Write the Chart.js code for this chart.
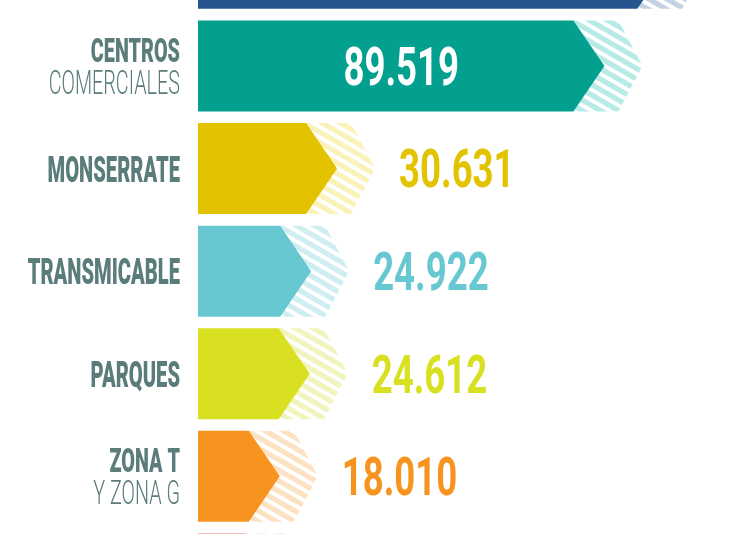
<!DOCTYPE html>
<html><head><meta charset="utf-8">
<script src="https://cdn.jsdelivr.net/npm/chart.js@4.4.1/dist/chart.umd.min.js"></script>
<style>html,body{margin:0;padding:0;background:#fff;}#wrap{position:relative;width:747px;height:534px;}</style>
</head><body><div id="wrap"><canvas id="c"></canvas></div>
<script>
// ---- data ----
const labelsBold  = ['', 'CENTROS', 'MONSERRATE', 'TRANSMICABLE', 'PARQUES', 'ZONA T', ''];
const labelsLight = ['', 'COMERCIALES', '', '', '', 'Y ZONA G', ''];
const values      = [103600, 89519, 30631, 24922, 24612, 18010, 17200];
const barColors   = ['#25548f', '#04a08f', '#e3c200', '#67c8d1', '#d9e021', '#f7941f', '#ea7a5c'];
const hatchColors = ['#c6d2e2', '#b6ebe6', '#fbf2b9', '#cfeef1', '#f2f4bd', '#fde1c3', '#fadacf'];

function fmt(v){ const t = Math.floor(v/1000), r = String(v%1000).padStart(3,'0'); return t + '.' + r; }

const CONDENSE_VALUE = 0.69;
const LABEL_COLOR = '#5a7c7a';

function condensedText(ctx, text, x, y, font, color, align, sx){
  ctx.save();
  ctx.font = font; ctx.fillStyle = color; ctx.textBaseline = 'alphabetic';
  const w = ctx.measureText(text).width * sx;
  let left = x;
  if (align === 'right') left = x - w; else if (align === 'center') left = x - w/2;
  ctx.translate(left, y); ctx.scale(sx, 1);
  ctx.textAlign = 'left';
  ctx.fillText(text, 0, 0);
  ctx.restore();
}

const chevronPlugin = {
  id: 'chevrons',
  afterDatasetsDraw(chart){
    const ctx = chart.ctx;
    const meta = chart.getDatasetMeta(0);
    const slope = Math.tan(30*Math.PI/180);
    meta.data.forEach((el, i) => {
      const p = el.getProps(['x','y','base','height'], true);
      const x = p.x, y = p.y, base = p.base, h = p.height;
      const top = y - h/2, bot = y + h/2;
      const d = 31, sh = 38, dh = 24;
      // hatched shadow
      ctx.save();
      ctx.beginPath();
      ctx.moveTo(x - d, top); ctx.lineTo(x + sh - dh, top); ctx.lineTo(x + sh, y);
      ctx.lineTo(x + sh - dh, bot); ctx.lineTo(x - d, bot); ctx.closePath();
      ctx.clip();
      ctx.strokeStyle = hatchColors[i]; ctx.lineWidth = 5.2;
      const period = 10.5, L = sh + d + 40;
      for (let k = -14; k < 14; k++){
        const y0 = top + k*period;
        ctx.beginPath(); ctx.moveTo(x - d - 20, y0); ctx.lineTo(x - d - 20 + L, y0 + L*slope); ctx.stroke();
      }
      ctx.restore();
      // solid chevron bar
      ctx.save();
      ctx.fillStyle = barColors[i];
      ctx.beginPath();
      ctx.moveTo(base, top); ctx.lineTo(x - d, top); ctx.lineTo(x, y);
      ctx.lineTo(x - d, bot); ctx.lineTo(base, bot); ctx.closePath();
      ctx.fill();
      ctx.restore();
      // value label
      const txt = fmt(values[i]);
      const vFont = 'bold 53px Roboto';
      const capH = 0.711*53;
      if (x - base > 250){
        condensedText(ctx, txt, (x + base)/2, y + capH/2, vFont, '#ffffff', 'center', CONDENSE_VALUE);
      } else {
        condensedText(ctx, txt, x + 62, y + capH/2, vFont, barColors[i], 'left', CONDENSE_VALUE);
      }
      // category label
      const lx = base - 18;
      if (labelsLight[i]){
        condensedText(ctx, labelsBold[i], lx, y - 4, '900 33px Roboto', LABEL_COLOR, 'right', 0.6);
        condensedText(ctx, labelsLight[i], lx, y + 28, '300 33px Roboto', LABEL_COLOR, 'right', 0.6);
      } else if (labelsBold[i]) {
        condensedText(ctx, labelsBold[i], lx, y + 13, '900 36px Roboto', LABEL_COLOR, 'right', 0.56);
      }
    });
  }
};

new Chart(document.getElementById('c'), {
  type: 'bar',
  data: {
    datasets: [{
      data: values.map((v, i) => ({x: v, y: i})),
      backgroundColor: 'rgba(0,0,0,0)',
      borderWidth: 0,
      barThickness: 91
    }]
  },
  options: {
    indexAxis: 'y',
    responsive: true,
    maintainAspectRatio: false,
    animation: false,
    layout: { padding: { left: 198, right: 0, top: 0, bottom: 0 } },
    scales: {
      x: { type: 'linear', min: 0, max: 120930, display: false, offset: false },
      y: { type: 'linear', min: 0.357, max: 5.562, reverse: true, display: false, offset: false }
    },
    plugins: { legend: { display: false }, tooltip: { enabled: false } }
  },
  plugins: [chevronPlugin]
});
</script>
</body></html>
